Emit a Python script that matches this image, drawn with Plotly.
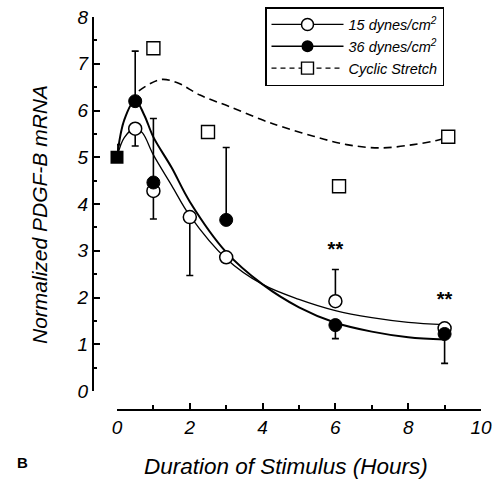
import plotly.graph_objects as go

# ---- data ----
ctrl_x = [0]
ctrl_y = [5.0]
ctrl_err_plus = [0.27]

d15_x = [0.5, 1, 2, 3, 6, 9]
d15_y = [5.61, 4.28, 3.72, 2.86, 1.92, 1.34]
d15_err_plus = [0, 0, 0, 0, 0.68, 0]
d15_err_minus = [0.37, 0.60, 1.25, 0, 0, 0]

d36_x = [0.5, 1, 3, 6, 9]
d36_y = [6.2, 4.46, 3.66, 1.41, 1.22]
d36_err_plus = [1.07, 1.37, 1.55, 0, 0]
d36_err_minus = [0, 0, 0, 0.29, 0.63]

cyc_x = [1, 2.5, 6.1, 9.1]
cyc_y = [7.33, 5.54, 4.38, 5.44]

# fitted curves
fit15_x = [0, 0.2, 0.5, 0.7, 1, 1.5, 2, 3, 4, 5, 6, 7, 8, 9]
fit15_y = [5.0, 5.42, 5.62, 5.52, 5.05, 4.4, 3.75, 2.83, 2.28, 1.96, 1.72, 1.57, 1.47, 1.42]
fit36_x = [0, 0.2, 0.5, 0.75, 1, 1.5, 2, 3, 4, 5, 6, 7, 8, 9]
fit36_y = [5.0, 5.8, 6.22, 5.9, 5.43, 4.78, 4.05, 2.97, 2.28, 1.79, 1.46, 1.27, 1.15, 1.10]
fitcyc_x = [0.6, 1.18, 1.64, 2.28, 3.1, 4.02, 4.5, 5.4, 6.31, 7.23, 8.14, 8.78, 9.1]
fitcyc_y = [6.42, 6.66, 6.6, 6.33, 6.08, 5.79, 5.66, 5.45, 5.27, 5.2, 5.27, 5.36, 5.43]

sig_x = [6, 9]
sig_y = [3.0, 1.93]
sig_text = ["**", "**"]

x_ticks = [0, 2, 4, 6, 8, 10]
y_ticks = [0, 1, 2, 3, 4, 5, 6, 7, 8]

FONT = "Liberation Sans, Arial, sans-serif"

fig = go.Figure()

# curves
fig.add_trace(go.Scatter(x=fitcyc_x, y=fitcyc_y, mode="lines", line_shape="spline",
                         line=dict(color="black", width=1.6, dash="8px,5px"),
                         showlegend=False, hoverinfo="skip"))
fig.add_trace(go.Scatter(x=fit15_x, y=fit15_y, mode="lines", line_shape="spline",
                         line=dict(color="black", width=1.3),
                         showlegend=False, hoverinfo="skip"))
fig.add_trace(go.Scatter(x=fit36_x, y=fit36_y, mode="lines", line_shape="spline",
                         line=dict(color="black", width=2),
                         showlegend=False, hoverinfo="skip"))

# markers
fig.add_trace(go.Scatter(
    x=cyc_x, y=cyc_y, mode="markers", cliponaxis=False, showlegend=False,
    marker=dict(symbol="square", size=13, color="white", line=dict(color="black", width=1.4))))
fig.add_trace(go.Scatter(
    x=d15_x, y=d15_y, mode="markers", cliponaxis=False, showlegend=False,
    marker=dict(symbol="circle", size=13, color="white", line=dict(color="black", width=1.5)),
    error_y=dict(type="data", symmetric=False, array=d15_err_plus, arrayminus=d15_err_minus,
                 color="black", thickness=1.6, width=3.5)))
fig.add_trace(go.Scatter(
    x=d36_x, y=d36_y, mode="markers", cliponaxis=False, showlegend=False,
    marker=dict(symbol="circle", size=13, color="black", line=dict(color="black", width=1)),
    error_y=dict(type="data", symmetric=False, array=d36_err_plus, arrayminus=d36_err_minus,
                 color="black", thickness=1.6, width=3.5)))
fig.add_trace(go.Scatter(
    x=ctrl_x, y=ctrl_y, mode="markers", cliponaxis=False, showlegend=False,
    marker=dict(symbol="square", size=13, color="black"),
    error_y=dict(type="data", symmetric=False, array=ctrl_err_plus, arrayminus=[0],
                 color="black", thickness=1.6, width=3.5)))

# significance stars
fig.add_trace(go.Scatter(x=sig_x, y=sig_y, mode="text", text=sig_text, cliponaxis=False,
                         textposition="middle center", showlegend=False, hoverinfo="skip",
                         textfont=dict(size=20, color="black", family=FONT, style="normal",
                                       weight="bold")))

# legend entries
fig.add_trace(go.Scatter(x=[None], y=[None], mode="lines+markers", name="15 dynes/cm<sup>2</sup>",
                         line=dict(color="black", width=1.3),
                         marker=dict(symbol="circle", size=12, color="white",
                                     line=dict(color="black", width=1.5))))
fig.add_trace(go.Scatter(x=[None], y=[None], mode="lines+markers", name="36 dynes/cm<sup>2</sup>",
                         line=dict(color="black", width=1.6),
                         marker=dict(symbol="circle", size=12, color="black")))
fig.add_trace(go.Scatter(x=[None], y=[None], mode="lines+markers", name="Cyclic Stretch",
                         line=dict(color="black", width=1.4, dash="5px,4px"),
                         marker=dict(symbol="square", size=12, color="white",
                                     line=dict(color="black", width=1.4))))

W, H = 493, 480
L, R, T, B = 93, 12, 17, 70
pw, ph = W - L - R, H - T - B

def px_x(p):
    return (p - L) / pw

def px_y(p):
    return (H - B - p) / ph

fig.update_layout(
    width=W, height=H,
    margin=dict(l=L, r=R, t=T, b=B, pad=0, autoexpand=False),
    paper_bgcolor="white", plot_bgcolor="white",
    font=dict(family=FONT, size=18, color="black", style="italic"),
    xaxis=dict(domain=[px_x(117), 1], range=[0, 10], anchor="free", position=0,
               showline=True, linecolor="black", linewidth=2, showgrid=False, zeroline=False,
               tickmode="array", tickvals=x_ticks, ticktext=[str(v) for v in x_ticks],
               ticks="inside", ticklen=6, tickwidth=1.5, tickcolor="black",
               minor=dict(dtick=1, ticks="inside", ticklen=4, tickwidth=1.5, tickcolor="black"),
               tickfont=dict(size=19), automargin=False),
    yaxis=dict(domain=[px_y(391), 1], range=[0, 8], anchor="free", position=0,
               showline=True, linecolor="black", linewidth=2, showgrid=False, zeroline=False,
               tickmode="array", tickvals=y_ticks, ticktext=[str(v) for v in y_ticks],
               ticks="inside", ticklen=6, tickwidth=1.5, tickcolor="black",
               minor=dict(dtick=0.5, ticks="inside", ticklen=3, tickwidth=1.5, tickcolor="black"),
               tickfont=dict(size=19), automargin=False),
    legend=dict(x=px_x(265), y=px_y(7), xanchor="left", yanchor="top",
                bordercolor="black", borderwidth=1.5, bgcolor="white",
                font=dict(size=14.5, family=FONT, style="italic"), itemwidth=72,
                tracegroupgap=0),
    showlegend=True,
    annotations=[
        dict(text="Duration of Stimulus (Hours)", xref="paper", yref="paper",
             x=px_x(286), y=px_y(467), xanchor="center", yanchor="middle", showarrow=False,
             font=dict(size=22.5)),
        dict(text="Normalized PDGF-B mRNA", xref="paper", yref="paper", textangle=-90,
             x=px_x(40), y=px_y(215), xanchor="center", yanchor="middle", showarrow=False,
             font=dict(size=21)),
        dict(text="B", xref="paper", yref="paper", x=px_x(22), y=px_y(462),
             xanchor="center", yanchor="middle", showarrow=False,
             font=dict(size=15, style="normal", weight="bold")),
    ],
)

fig.write_html("out.html", config={"displayModeBar": False},
               post_script="document.body.style.margin='0px';")
